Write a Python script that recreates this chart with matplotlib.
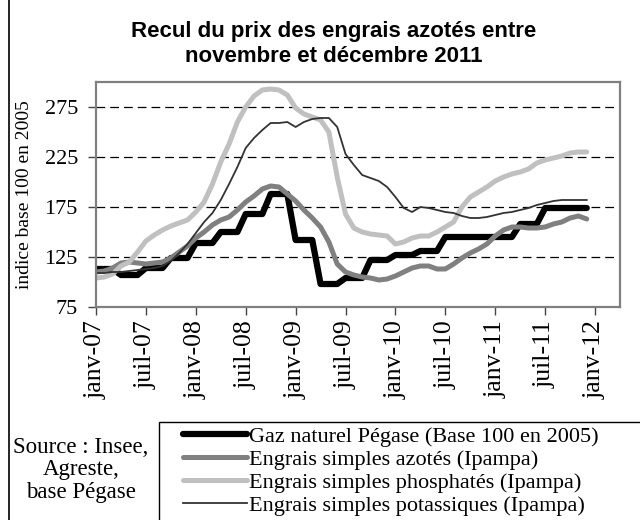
import numpy as np
import matplotlib
matplotlib.use("Agg")
import matplotlib.pyplot as plt
from matplotlib.patches import Rectangle

# Donnees mensuelles, janv-07 a dec-11 (indice base 100 en 2005)
gaz = [113, 113, 113, 107, 107, 107, 114, 114, 114, 124, 124, 124,
       139, 139, 139, 150, 150, 150, 168, 168, 168, 188, 188, 188,
       142, 142, 142, 98, 98, 98, 104, 104, 104, 122, 122, 122,
       127, 127, 127, 131, 131, 131, 145, 145, 145, 145, 145, 145,
       145, 145, 145, 158, 158, 158, 174, 174, 174, 174, 174, 174]
azotes = [110, 111, 114, 119, 120, 119, 118, 119, 120, 124, 130, 136,
          144, 150, 157, 162, 165, 172, 180, 186, 193, 196, 195, 188,
          181, 172, 164, 155, 140, 118, 110, 107, 105, 104, 102, 103,
          106, 110, 114, 116, 116, 113, 113, 118, 124, 129, 133, 138,
          146, 152, 155, 155, 154, 154, 155, 158, 160, 164, 166, 163]
phosphates = [104, 105, 108, 116, 120, 130, 141, 147, 152, 156, 159, 162,
              170, 180, 198, 220, 238, 260, 275, 286, 292, 293, 292, 287,
              274, 268, 265, 262, 250, 205, 168, 154, 150, 148, 147, 146,
              138, 140, 144, 146, 146, 150, 155, 160, 175, 185, 190, 195,
              201, 205, 208, 210, 213, 219, 222, 224, 226, 229, 230, 230]
potassiques = [109, 109, 110, 110, 111, 112, 113, 114, 116, 121, 129, 138,
               149, 160, 169, 182, 198, 215, 234, 244, 252, 259, 259, 260,
               255, 260, 263, 264, 264, 255, 228, 217, 207, 204, 201, 195,
               185, 174, 170, 175, 174, 172, 170, 169, 166, 164, 164, 165,
               167, 169, 170, 172, 174, 177, 179, 181, 182, 182, 182, 182]

etiquettes = ["janv-07", "juil-07", "janv-08", "juil-08", "janv-09", "juil-09",
              "janv-10", "juil-10", "janv-11", "juil-11", "janv-12"]
noms = ["Gaz naturel Pégase (Base 100 en 2005)",
        "Engrais simples azotés (Ipampa)",
        "Engrais simples phosphatés (Ipampa)",
        "Engrais simples potassiques (Ipampa)"]

mois = np.arange(len(gaz))
serif = "Liberation Serif"
W, H = 640, 520

fig = plt.figure(figsize=(6.4, 5.2), dpi=100)
ax = fig.add_axes([96/W, 1-307/H, 524/W, 225/H])

ax.plot(mois, gaz, color="black", lw=4.5, label=noms[0], solid_capstyle="round")
ax.plot(mois, azotes, color="#808080", lw=3.6, label=noms[1], solid_capstyle="round")
ax.plot(mois, phosphates, color="#c0c0c0", lw=3.6, label=noms[2], solid_capstyle="round")
ax.plot(mois, potassiques, color="#333333", lw=1.3, label=noms[3])

ax.set_xlim(0, 63)
ax.set_ylim(75, 300)
ax.set_yticks([75, 125, 175, 225, 275])
ax.set_xticks(np.arange(0, 61, 6))
ax.set_xticklabels(etiquettes, rotation=90)
for t in ax.get_xticklabels():
    t.set_fontfamily(serif)
    t.set_fontsize(18.5)
for t in ax.get_yticklabels():
    t.set_fontfamily(serif)
    t.set_fontsize(16)
ax.tick_params(axis="both", direction="out", length=6, color="#444444", width=1)
ax.tick_params(axis="x", pad=3.5)
ax.tick_params(axis="y", pad=7)

for y in [125, 175, 225, 275]:
    ax.axhline(y, color="black", lw=0.9, ls=(0, (7, 4)), zorder=0)

for s in ax.spines.values():
    s.set_color("#808080")
    s.set_linewidth(1.6)

fig.text(25/W, 1-195/H, "indice base 100 en 2005", rotation=90,
         ha="center", va="center", family=serif, fontsize=14)

fig.text(334/W, 1-44/H, "Recul du prix des engrais azotés entre\nnovembre et décembre 2011",
         ha="center", va="center", family="Liberation Sans", weight="bold",
         fontsize=16, linespacing=1.25)

fig.text(81/W, 1-470/H, "Source : Insee,\nAgreste,\nbase Pégase",
         ha="center", va="center", family=serif, fontsize=16.5, linespacing=1.1)

# cadre de la legende
fig.patches.append(Rectangle((159/W, -0.1), 1.0, 1-422/H+0.1, transform=fig.transFigure,
                             fill=False, edgecolor="black", lw=1.0))

leg = fig.legend(loc="upper left", bbox_to_anchor=(183/W, 1-426/H),
                 prop={"family": serif, "size": 16}, frameon=False,
                 handlelength=2.9, handletextpad=0.08, labelspacing=0.12,
                 borderpad=0, borderaxespad=0)

# cadre du graphique
fig.patches.append(Rectangle((8.5/W, -0.1), 1.0, 1.2, transform=fig.transFigure,
                             fill=False, edgecolor="black", lw=1.2))

fig.savefig("out.png", dpi=100)
